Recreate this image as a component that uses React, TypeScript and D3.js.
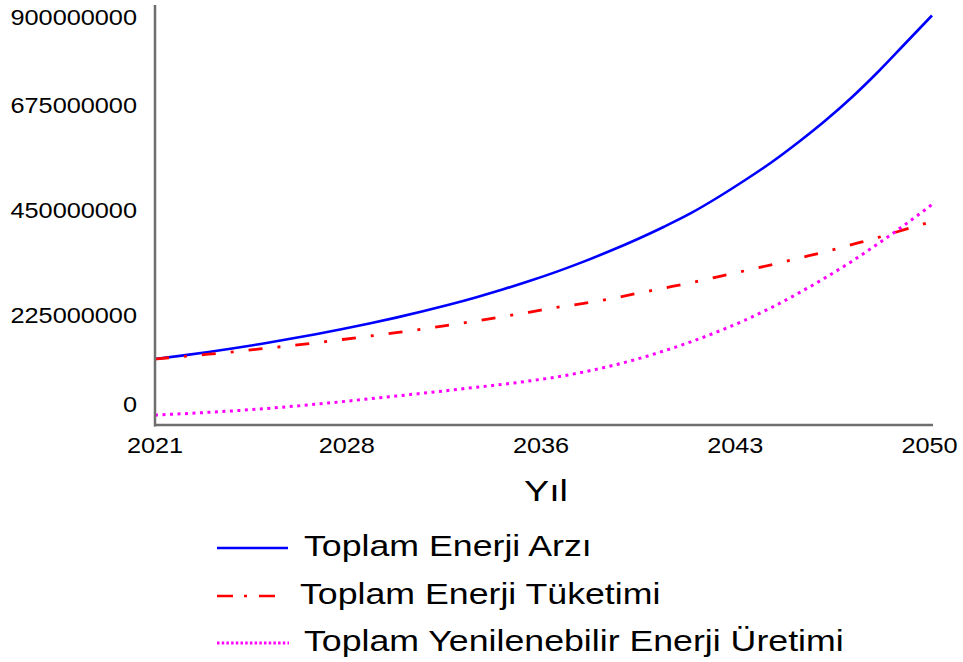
import React from "react";
import * as d3 from "d3";

// Years of the simulation run
const years: number[] = d3.range(2021, 2051);

// Toplam Enerji Arzı (total energy supply), millions
const arz: number[] = [
  141.4, 148.7, 156.4, 165.0, 174.2, 184.1, 194.6, 205.7, 217.5, 230.1,
  243.6, 258.2, 273.9, 290.8, 309.0, 328.7, 350.1, 373.3, 398.1, 424.9,
  453.9, 487.5, 523.9, 562.5, 605.4, 651.4, 701.8, 757.5, 817.5, 877.5,
].map((v) => v * 1e6);

// Toplam Enerji Tüketimi (total energy consumption), millions
const tuketim: number[] = [
  141.4, 146.6, 151.7, 157.3, 163.5, 169.7, 176.1, 183.2, 190.5, 198.0,
  205.5, 214.5, 223.1, 232.5, 242.1, 252.0, 260.6, 270.4, 282.0, 293.4,
  304.9, 317.6, 330.2, 343.3, 357.2, 370.9, 386.4, 402.0, 419.1, 436.1,
].map((v) => v * 1e6);

// Toplam Yenilenebilir Enerji Üretimi (total renewable production), millions
const yenilenebilir: number[] = [
  21.4, 24.0, 27.2, 30.6, 34.7, 39.4, 44.6, 50.1, 56.1, 62.1,
  68.1, 74.4, 81.0, 87.2, 94.7, 102.9, 113.6, 126.4, 141.4, 158.8,
  178.2, 200.0, 224.2, 251.5, 282.0, 315.0, 350.4, 388.9, 429.6, 472.5,
].map((v) => v * 1e6);

const yTicks: number[] = [0, 225000000, 450000000, 675000000, 900000000];
const xTickCount = 4; // intervals between the year labels
const seriesNames: string[] = [
  "Toplam Enerji Arzı",
  "Toplam Enerji Tüketimi",
  "Toplam Yenilenebilir Enerji Üretimi",
];
const xTitle = "Yıl";

const W = 963;
const H = 662;
const left = 155;
const right = 932;
const top = 5;
const bottom = 425;
const FONT = "'Liberation Sans', Arial, sans-serif";
const STRETCH = 1.15;
const AXIS = "#6e6e6e";

const styles = [
  { color: "#0000ff", dash: undefined as string | undefined, width: 2.6 },
  { color: "#ff0000", dash: "14,15,3,15", width: 2.8 },
  { color: "#ff00ff", dash: "3,4.5", width: 3 },
];

export default function App() {
  const x = d3.scaleLinear().domain([2021, 2050]).range([left, right]);
  const y = d3.scaleLinear().domain([0, 900000000]).range([bottom, top]);

  const line = (vals: number[]) =>
    d3
      .line<number>()
      .x((_, i) => x(years[i]))
      .y((v) => y(v))
      .curve(d3.curveMonotoneX)(vals) as string;

  const series = [arz, tuketim, yenilenebilir];
  const xTickVals = d3.range(xTickCount + 1).map((k) => 2021 + (29 * k) / xTickCount);

  const label = (
    tx: number,
    ty: number,
    text: string,
    size: number,
    anchor: "start" | "middle" | "end",
    stretch: number = STRETCH
  ) => (
    <text
      transform={`translate(${tx},${ty}) scale(${stretch},1)`}
      fontFamily={FONT}
      fontSize={size}
      textAnchor={anchor}
      fill="#000"
    >
      {text}
    </text>
  );

  const legendRows = [
    { ly: 548, tx: 304, tb: 556, x2: 288 },
    { ly: 596, tx: 300, tb: 604, x2: 278 },
    { ly: 643, tx: 304, tb: 651, x2: 289 },
  ];

  return (
    <svg
      width={W}
      height={H}
      style={{ position: "absolute", left: 0, top: 0, background: "#fff" }}
    >
      <rect width={W} height={H} fill="#fff" />
      {series.map((vals, i) => (
        <path
          key={i}
          d={line(vals)}
          fill="none"
          stroke={styles[i].color}
          strokeWidth={styles[i].width}
          strokeDasharray={styles[i].dash}
        />
      ))}
      {/* axes */}
      <line x1={left} x2={left} y1={top} y2={bottom + 1.5} stroke={AXIS} strokeWidth={2.5} />
      <line x1={left - 1} x2={right + 1} y1={bottom} y2={bottom} stroke={AXIS} strokeWidth={2.5} />
      {yTicks.map((t) => {
        const py = y(t);
        const base = Math.min(Math.max(py + 3, top + 20), bottom - 13);
        return <g key={t}>{label(137, base, String(t), 22, "end")}</g>;
      })}
      {xTickVals.map((t, k) => (
        <g key={k}>{label(x(t) - (k === 0 ? 0 : 2.5), 453, String(Math.round(t)), 22, "middle")}</g>
      ))}
      {label(546, 501, xTitle, 29, "middle", 1.3)}
      {/* legend */}
      {legendRows.map((r, i) => (
        <g key={i}>
          <line
            x1={217}
            x2={r.x2}
            y1={r.ly}
            y2={r.ly}
            stroke={styles[i].color}
            strokeWidth={i === 2 ? 3 : 2.4}
            strokeDasharray={i === 1 ? "16,11,3,12" : i === 2 ? "2.5,2.2" : undefined}
          />
          {label(r.tx, r.tb, seriesNames[i], 30, "start", 1.19)}
        </g>
      ))}
    </svg>
  );
}
